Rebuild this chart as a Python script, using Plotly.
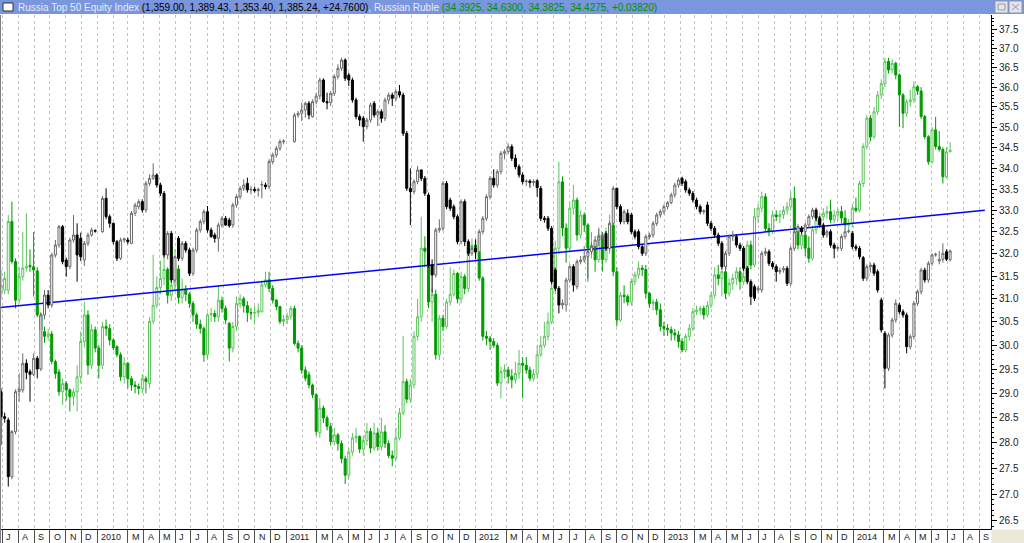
import pandas as pd
import plotly.graph_objects as go

# ---------------- data ----------------
week_start = "2009-06-29"
n_weeks = 263
weeks = pd.date_range(week_start, periods=n_weeks, freq="7D")

# Russia Top 50 Equity Index (weekly OHLC)
idx_open = [
    963, 888, 878, 708, 843, 963, 968, 1048, 1023, 1015,
    1063, 1031, 1193, 1253, 1223, 1373, 1403, 1458, 1358, 1338,
    1418, 1433, 1423, 1358, 1408, 1433, 1446, None, 1443, 1543,
    1488, 1468, 1413, 1363, 1418, 1418, 1408, 1498, 1518, 1533,
    1508, 1588, 1603, 1613, 1583, 1558, 1373, 1438, 1298, 1423,
    1363, 1408, 1388, 1318, 1388, 1448, 1473, 1503, 1448, 1433,
    1423, 1463, 1483, 1478, 1463, 1523, 1548, 1573, 1588, 1568,
    1570, 1566, 1583, 1583, 1578, 1653, 1673, 1693, 1713, None,
    None, 1713, 1793, 1798, 1808, 1828, 1788, 1833, 1850, 1898,
    1833, 1830, 1858, 1908, 1933, 1958, 1913, 1898, 1838, 1788,
    1783, 1758, 1778, 1828, 1793, 1803, 1783, 1838, 1853, 1843,
    1863, 1853, 1738, 1573, 1563, 1593, 1628, 1603, 1553, 1343,
    1313, 1448, 1453, 1588, 1538, 1518, 1488, 1413, 1533, 1413,
    1378, 1393, 1383, 1443, 1483, 1548, 1603, 1583, 1623, 1678,
    1683, 1698, 1663, 1638, 1613, 1593, 1595, 1590, 1596, 1573,
    1483, 1483, 1453, 1328, 1273, 1223, 1223, 1298, 1338, 1278,
    1353, 1358, 1368, 1383, 1398, 1418, 1428, 1438, 1393, 1468,
    1573, 1518, 1473, 1498, 1493, 1443, 1443, 1398, 1378, 1428,
    1433, 1468, 1493, 1503, 1518, 1530, 1553, 1583, 1603, 1593,
    1568, 1558, 1538, 1518, 1503, 1523, 1468, 1453, 1433, 1408,
    1338, 1378, 1428, 1428, 1403, 1393, 1333, 1293, 1278, 1268,
    1268, 1378, 1383, 1348, 1338, 1323, 1328, 1333, 1288, 1393,
    1443, 1453, 1443, 1463, 1488, 1508, 1483, 1463, 1433, 1443,
    1403, 1393, 1393, 1428, 1443, 1438, 1398, 1393, 1365, 1303,
    1338, 1343, 1323, 1238, 1138, 1033, 1133, 1178, 1223, 1203,
    1193, 1098, 1128, 1228, 1263, 1328, 1298, 1348, 1373, 1355,
    1360, 1383, 1359.00,
]
idx_high = [
    973, 900, 885, 848, 970, 1018, 1078, 1060, 1030, 1078,
    1070, 1200, 1268, 1268, 1380, 1418, 1463, 1463, 1365, 1425,
    1493, 1468, 1440, 1415, 1440, 1455, 1450, None, 1550, 1573,
    1495, 1470, 1418, 1425, 1425, 1425, 1505, 1530, 1540, 1540,
    1595, 1615, 1648, 1618, 1590, 1565, 1445, 1445, 1370, 1430,
    1415, 1415, 1395, 1395, 1455, 1480, 1510, 1520, 1455, 1440,
    1470, 1490, 1490, 1485, 1530, 1555, 1580, 1600, 1605, 1580,
    1578, 1575, 1595, 1590, 1660, 1680, 1700, 1720, 1720, None,
    None, 1800, 1805, 1830, 1833, 1835, 1840, 1860, 1905, 1903,
    1860, 1865, 1915, 1945, 1965, 1963, 1920, 1905, 1845, 1795,
    1790, 1785, 1830, 1835, 1810, 1810, 1845, 1860, 1860, 1870,
    1883, 1860, 1745, 1633, 1600, 1640, 1630, 1610, 1560, 1360,
    1455, 1480, 1595, 1595, 1545, 1525, 1495, 1540, 1540, 1420,
    1400, 1420, 1450, 1490, 1555, 1610, 1630, 1630, 1685, 1690,
    1708, 1705, 1675, 1645, 1620, 1600, 1600, 1600, 1600, 1580,
    1490, 1490, 1460, 1335, 1280, 1240, 1305, 1345, 1345, 1360,
    1370, 1400, 1395, 1410, 1430, 1455, 1440, 1445, 1475, 1580,
    1575, 1525, 1510, 1510, 1500, 1450, 1450, 1405, 1435, 1440,
    1475, 1500, 1510, 1525, 1535, 1560, 1590, 1605, 1608, 1600,
    1575, 1565, 1545, 1525, 1510, 1533, 1475, 1460, 1440, 1415,
    1385, 1435, 1445, 1435, 1410, 1400, 1340, 1300, 1285, 1280,
    1385, 1395, 1390, 1355, 1345, 1335, 1340, 1340, 1400, 1450,
    1465, 1460, 1470, 1495, 1515, 1515, 1490, 1470, 1450, 1450,
    1410, 1400, 1435, 1450, 1450, 1445, 1405, 1400, 1370, 1345,
    1350, 1350, 1330, 1245, 1145, 1140, 1185, 1240, 1230, 1210,
    1200, 1135, 1235, 1270, 1335, 1335, 1355, 1378, 1380, 1385,
    1408, 1390, 1389.43,
]
idx_low = [
    803, 870, 678, 700, 835, 933, 960, 1000, 933, 1010,
    1003, 1025, 1180, 1213, 1215, 1365, 1395, 1345, 1308, 1330,
    1410, 1293, 1355, 1340, 1400, 1428, 1440, None, 1440, 1480,
    1455, 1405, 1355, 1358, 1410, 1405, 1405, 1490, 1510, 1500,
    1500, 1580, 1598, 1575, 1550, 1365, 1360, 1290, 1290, 1355,
    1355, 1380, 1310, 1310, 1380, 1440, 1465, 1440, 1425, 1410,
    1383, 1455, 1460, 1455, 1455, 1515, 1540, 1565, 1560, 1555,
    1560, 1548, 1543, 1570, 1570, 1645, 1665, 1685, 1705, None,
    None, 1710, 1785, 1775, 1785, 1780, 1785, 1825, 1840, 1830,
    1810, 1820, 1850, 1900, 1925, 1895, 1880, 1830, 1780, 1760,
    1713, 1750, 1770, 1785, 1760, 1770, 1775, 1825, 1820, 1835,
    1845, 1730, 1565, 1463, 1555, 1585, 1595, 1550, 1335, 1260,
    1305, 1440, 1445, 1510, 1505, 1480, 1405, 1405, 1400, 1370,
    1370, 1360, 1375, 1435, 1475, 1540, 1575, 1575, 1615, 1660,
    1675, 1655, 1630, 1605, 1585, 1580, 1575, 1580, 1548, 1475,
    1470, 1445, 1285, 1265, 1198, 1210, 1203, 1290, 1263, 1270,
    1345, 1350, 1293, 1375, 1390, 1400, 1420, 1385, 1385, 1460,
    1510, 1465, 1465, 1465, 1435, 1420, 1390, 1370, 1370, 1420,
    1425, 1460, 1485, 1495, 1510, 1525, 1545, 1575, 1580, 1560,
    1550, 1530, 1510, 1495, 1495, 1460, 1445, 1425, 1400, 1330,
    1330, 1370, 1415, 1395, 1385, 1325, 1285, 1223, 1235, 1260,
    1260, 1370, 1340, 1330, 1293, 1315, 1320, 1280, 1280, 1385,
    1435, 1435, 1435, 1455, 1480, 1475, 1455, 1425, 1425, 1395,
    1363, 1385, 1385, 1420, 1438, 1390, 1385, 1360, 1295, 1295,
    1320, 1310, 1260, 1140, 973, 1025, 1125, 1170, 1195, 1185,
    1078, 1090, 1120, 1220, 1255, 1290, 1290, 1340, 1368, 1345,
    1350, 1355, 1353.40,
]
idx_close = [
    888, 883, 708, 843, 963, 971, 1048, 1021, 1015, 1063,
    1031, 1193, 1253, 1223, 1373, 1403, 1458, 1353, 1338, 1418,
    1433, 1373, 1368, 1408, 1433, 1448, 1445, None, 1543, 1488,
    1468, 1413, 1363, 1418, 1421, 1413, 1498, 1523, 1533, 1508,
    1588, 1603, 1613, 1583, 1558, 1373, 1438, 1298, 1368, 1363,
    1408, 1388, 1318, 1388, 1448, 1473, 1503, 1448, 1428, 1423,
    1463, 1483, 1463, 1461, 1523, 1548, 1573, 1583, 1568, 1570,
    1566, 1570, 1584, 1578, 1653, 1673, 1693, 1713, 1715, None,
    None, 1793, 1798, 1808, 1828, 1793, 1833, 1850, 1898, 1833,
    1830, 1858, 1908, 1933, 1958, 1903, 1898, 1838, 1788, 1778,
    1758, 1778, 1823, 1793, 1803, 1783, 1838, 1853, 1843, 1863,
    1853, 1738, 1573, 1563, 1593, 1628, 1603, 1558, 1343, 1313,
    1448, 1453, 1588, 1518, 1513, 1488, 1413, 1533, 1413, 1378,
    1393, 1383, 1443, 1483, 1548, 1603, 1583, 1623, 1678, 1683,
    1698, 1663, 1638, 1613, 1593, 1595, 1590, 1593, 1575, 1483,
    1480, 1453, 1293, 1273, 1223, 1228, 1298, 1338, 1283, 1353,
    1358, 1368, 1383, 1398, 1418, 1428, 1433, 1393, 1468, 1573,
    1518, 1473, 1503, 1473, 1443, 1428, 1398, 1378, 1428, 1433,
    1468, 1493, 1503, 1518, 1530, 1553, 1583, 1598, 1588, 1568,
    1558, 1538, 1518, 1503, 1505, 1468, 1453, 1433, 1408, 1338,
    1378, 1428, 1430, 1403, 1393, 1333, 1293, 1248, 1243, 1273,
    1378, 1383, 1348, 1338, 1323, 1326, 1333, 1288, 1393, 1443,
    1458, 1443, 1463, 1488, 1508, 1483, 1463, 1433, 1443, 1403,
    1393, 1395, 1428, 1443, 1445, 1398, 1393, 1368, 1303, 1338,
    1343, 1318, 1268, 1148, 1033, 1133, 1178, 1228, 1203, 1193,
    1098, 1128, 1228, 1263, 1328, 1298, 1348, 1373, 1375, 1360,
    1378, 1360.48, 1385.24,
]

# Russian Ruble (weekly OHLC)
rub_open = [
    31.16, 31.19, 31.19, 32.74, 31.83, 30.97, 31.49, 31.68, 31.74, 31.71,
    31.62, 30.65, 30.29, 30.19, 30.24, 29.66, 29.44, 29.03, 29.2, 29.07,
    28.93, 29.03, 29.34, 30.08, 30.65, 29.58, 30.33, 29.94, 29.58, 30.4,
    30.36, 30.11, 29.97, 29.8, 29.34, 29.62, 29.3, 29.17, 29.14, 29.1,
    29.3, 29.2, 30.51, 30.86, 31.25, 31.45, 31.65, 31.08, 31.3, 31.66,
    31.03, 31.2, 31.1, 30.9, 30.65, 30.45, 30.36, 29.8, 30.65, 30.68,
    30.61, 30.97, 30.79, 30.47, 29.94, 30.4, 30.9, 31.0, 30.85, 30.7,
    30.69, 30.7, 30.72, 31.31, 31.42, 31.23, 30.97, 30.83, 30.51, 30.55,
    30.62, 30.79, 30.04, 29.94, 29.48, 29.38, 29.17, 28.97, 28.2, 28.7,
    28.5, 28.33, 28.03, 28.16, 27.99, 27.69, 27.37, 27.82, 28.1, 28.13,
    27.88, 28.05, 28.23, 27.9, 28.2, 27.93, 28.22, 27.99, 27.75, 27.7,
    28.1, 28.6, 29.24, 28.88, 29.17, 30.19, 30.61, 32.13, 32.06, 30.93,
    31.1, 29.8, 30.58, 30.4, 30.93, 31.1, 31.56, 31.0, 31.49, 31.23,
    32.13, 32.2, 32.04, 31.46, 30.19, 30.15, 30.08, 30.0, 29.21, 29.45,
    29.48, 29.35, 29.28, 29.41, 29.62, 29.58, 29.48, 29.31, 29.4, 29.8,
    30.0, 30.19, 30.5, 31.23, 32.13, 33.67, 32.59, 32.13, 33.05, 33.24,
    32.43, 32.89, 32.66, 32.13, 32.2, 31.87, 32.43, 31.87, 32.13, 32.66,
    31.6, 30.54, 31.08, 31.05, 30.93, 31.38, 31.53, 31.68, 31.65, 31.12,
    30.9, 30.93, 30.76, 30.4, 30.36, 30.33, 30.26, 30.22, 30.08, 29.9,
    30.19, 30.36, 30.72, 30.75, 30.79, 30.65, 30.86, 31.08, 31.53, 31.45,
    31.6, 31.12, 31.34, 31.45, 31.6, 31.38, 31.49, 32.2, 31.75, 32.85,
    33.05, 33.32, 32.58, 32.51, 32.89, 32.85, 32.9, 33.0, 33.08, 33.28,
    32.55, 32.2, 32.43, 32.13, 31.9, 32.55, 32.78, 32.85, 32.93, 32.97,
    32.78, 32.89, 32.97, 32.82, 32.66, 32.7, 33.05, 33.0, 33.63, 34.52,
    35.22, 34.76, 35.38, 35.8, 36.09, 36.66, 36.44, 36.61, 36.31, 35.8,
    35.34, 35.63, 35.68, 36.01, 35.9, 35.26, 34.76, 34.15, 34.93, 34.52,
    34.45, 33.79, 34.3925,
]
rub_high = [
    31.64, 31.6, 32.89, 33.2, 31.9, 31.7, 32.5, 32.93, 32.1, 32.5,
    31.7, 30.7, 30.4, 30.35, 30.3, 29.7, 29.5, 29.3, 29.25, 29.1,
    29.1, 29.58, 30.3, 30.94, 30.75, 30.45, 30.4, 30.0, 30.5, 30.55,
    30.45, 30.15, 30.0, 29.85, 29.75, 29.65, 29.35, 29.25, 29.2, 29.4,
    29.35, 30.6, 31.98, 31.5, 31.85, 32.0, 31.7, 31.5, 32.1, 31.75,
    31.45, 31.3, 31.15, 30.95, 30.7, 30.55, 30.4, 30.7, 30.8, 30.75,
    31.3, 31.05, 30.85, 30.5, 30.5, 31.05, 31.1, 31.05, 30.95, 30.8,
    30.85, 30.9, 31.4, 31.6, 31.6, 31.3, 31.0, 30.85, 30.65, 30.7,
    30.85, 30.85, 30.1, 30.0, 29.55, 29.45, 29.2, 29.0, 28.9, 28.75,
    28.55, 28.4, 28.3, 28.2, 28.05, 27.75, 27.9, 28.2, 28.3, 28.15,
    28.15, 28.4, 28.3, 28.4, 28.3, 28.5, 28.35, 28.05, 27.85, 28.3,
    28.7, 30.2, 29.3, 29.3, 30.3, 31.0, 32.85, 32.4, 32.1, 31.2,
    31.2, 30.65, 30.65, 31.0, 31.7, 31.65, 31.6, 31.6, 31.55, 32.25,
    32.35, 32.3, 32.1, 31.5, 30.3, 30.2, 30.15, 30.05, 29.55, 29.6,
    29.55, 29.5, 29.65, 29.9, 29.75, 29.75, 29.55, 29.5, 30.0, 30.2,
    30.5, 30.7, 31.45, 32.3, 34.15, 33.8, 32.7, 33.2, 33.6, 33.3,
    33.0, 32.95, 32.7, 32.5, 32.3, 32.55, 32.5, 32.6, 32.9, 32.7,
    31.7, 31.15, 31.3, 31.1, 31.45, 31.6, 31.83, 31.75, 31.75, 31.15,
    31.0, 31.0, 30.9, 30.5, 30.45, 30.4, 30.35, 30.3, 30.15, 30.25,
    30.45, 30.8, 30.85, 30.85, 30.85, 30.95, 31.15, 31.7, 31.75, 31.9,
    31.7, 31.45, 31.55, 31.7, 31.7, 31.9, 32.3, 32.3, 33.05, 33.15,
    33.44, 33.4, 32.7, 33.0, 33.0, 33.0, 33.1, 33.2, 33.44, 33.56,
    32.6, 32.5, 32.5, 32.4, 32.65, 32.85, 32.95, 33.05, 33.1, 33.25,
    33.0, 33.05, 33.1, 33.0, 32.8, 33.15, 33.3, 33.7, 34.6, 35.3,
    35.3, 35.5, 35.9, 36.2, 36.75, 36.75, 36.72, 36.65, 36.35, 35.85,
    35.7, 35.93, 36.15, 36.05, 36.0, 35.3, 34.8, 35.0, 35.25, 34.9,
    34.5, 34.5, 34.63,
]
rub_low = [
    31.0, 31.1, 31.1, 31.78, 30.79, 30.9, 31.4, 31.6, 31.6, 31.05,
    30.6, 30.25, 30.05, 30.1, 29.6, 29.3, 28.95, 28.76, 28.85, 28.63,
    28.75, 28.63, 29.2, 29.95, 29.38, 29.5, 29.85, 29.3, 29.5, 30.2,
    30.0, 29.9, 29.75, 29.25, 29.2, 29.1, 29.05, 29.0, 28.97, 29.0,
    29.0, 29.1, 30.45, 30.8, 31.1, 31.3, 30.9, 30.95, 31.2, 30.9,
    30.9, 30.95, 30.8, 30.5, 30.35, 30.25, 29.65, 29.7, 30.5, 30.5,
    30.5, 30.7, 30.45, 29.66, 29.85, 30.3, 30.8, 30.7, 30.5, 30.55,
    30.45, 30.6, 30.7, 31.25, 31.15, 30.9, 30.75, 30.45, 30.4, 30.45,
    30.55, 30.0, 29.85, 29.4, 29.25, 29.1, 28.9, 28.15, 28.1, 28.4,
    28.25, 27.95, 27.95, 27.85, 27.6, 27.2, 27.3, 27.75, 28.0, 27.8,
    27.75, 27.95, 27.8, 27.85, 27.85, 27.85, 27.9, 27.7, 27.54, 27.65,
    28.05, 28.55, 28.8, 28.8, 29.1, 30.1, 30.5, 31.7, 30.8, 30.5,
    29.7, 29.69, 30.3, 30.35, 30.85, 31.05, 30.9, 30.9, 31.1, 31.15,
    32.0, 31.95, 31.4, 30.1, 30.0, 29.9, 29.95, 29.15, 28.9, 29.3,
    29.2, 29.1, 29.2, 29.3, 28.9, 29.4, 29.25, 29.25, 29.3, 29.75,
    29.95, 30.1, 30.45, 31.1, 32.0, 32.4, 31.8, 32.05, 32.9, 32.3,
    32.35, 32.5, 31.45, 31.9, 31.6, 31.8, 31.6, 31.8, 32.0, 31.5,
    30.4, 30.5, 30.9, 30.85, 30.85, 31.3, 31.45, 31.5, 31.0, 30.8,
    30.75, 30.65, 30.3, 30.2, 30.2, 30.1, 30.1, 29.95, 29.85, 29.85,
    30.1, 30.3, 30.65, 30.65, 30.55, 30.6, 30.8, 31.0, 31.3, 31.05,
    31.0, 31.05, 31.2, 31.3, 31.2, 31.3, 31.45, 31.65, 31.7, 32.7,
    32.95, 32.5, 32.4, 32.45, 32.75, 32.7, 32.8, 32.9, 33.0, 32.45,
    32.1, 32.1, 31.95, 31.8, 31.85, 32.45, 32.7, 32.75, 32.8, 32.7,
    32.7, 32.75, 32.7, 32.55, 32.55, 32.6, 32.95, 32.95, 33.55, 34.45,
    34.65, 34.7, 35.3, 35.7, 36.0, 36.35, 36.35, 36.2, 35.0, 34.97,
    35.25, 35.5, 35.6, 35.8, 35.2, 34.7, 34.08, 34.1, 34.45, 34.4,
    33.63, 33.75, 34.3825,
]
rub_close = [
    31.29, 31.45, 32.74, 31.83, 30.97, 31.49, 31.68, 31.72, 31.71, 31.64,
    30.65, 30.33, 30.19, 30.24, 29.66, 29.41, 29.03, 29.2, 29.07, 28.93,
    29.03, 29.34, 30.08, 30.65, 29.58, 30.33, 29.94, 29.58, 30.4, 30.36,
    30.11, 29.95, 29.8, 29.34, 29.62, 29.3, 29.17, 29.14, 29.1, 29.3,
    29.24, 30.51, 30.86, 31.25, 31.45, 31.65, 31.08, 31.3, 31.7, 31.03,
    31.2, 31.1, 30.9, 30.65, 30.45, 30.36, 29.8, 30.65, 30.68, 30.61,
    30.97, 30.79, 30.54, 29.94, 30.4, 30.9, 31.0, 30.85, 30.7, 30.69,
    30.7, 30.75, 31.31, 31.42, 31.23, 30.97, 30.83, 30.51, 30.55, 30.62,
    30.79, 30.04, 29.94, 29.48, 29.31, 29.17, 28.97, 28.23, 28.7, 28.5,
    28.33, 28.03, 28.16, 27.99, 27.69, 27.37, 27.82, 28.1, 28.13, 27.88,
    28.05, 28.23, 27.9, 28.2, 27.93, 28.22, 27.99, 27.75, 27.7, 28.1,
    28.6, 29.24, 28.88, 29.17, 30.19, 30.61, 32.13, 32.06, 30.93, 31.1,
    29.8, 30.58, 30.4, 30.93, 31.1, 31.56, 31.0, 31.49, 31.23, 32.13,
    32.2, 32.04, 31.46, 30.19, 30.15, 30.08, 30.0, 29.21, 29.45, 29.48,
    29.35, 29.28, 29.41, 29.62, 29.58, 29.48, 29.31, 29.4, 29.8, 30.0,
    30.19, 30.5, 31.23, 32.13, 33.67, 32.59, 32.13, 33.05, 33.24, 32.43,
    32.89, 32.66, 32.13, 32.2, 31.87, 32.43, 31.87, 32.13, 32.66, 31.6,
    30.54, 31.08, 31.05, 30.93, 31.38, 31.53, 31.68, 31.65, 31.12, 30.9,
    30.93, 30.76, 30.4, 30.36, 30.33, 30.26, 30.22, 30.08, 29.9, 30.19,
    30.36, 30.72, 30.75, 30.79, 30.65, 30.86, 31.08, 31.53, 31.45, 31.6,
    31.12, 31.34, 31.45, 31.6, 31.38, 31.49, 32.2, 31.75, 32.85, 33.05,
    33.32, 32.58, 32.51, 32.89, 32.85, 32.9, 33.0, 33.08, 33.28, 32.55,
    32.2, 32.43, 32.13, 31.9, 32.55, 32.78, 32.85, 32.93, 32.97, 32.78,
    32.89, 32.97, 32.82, 32.66, 32.7, 33.05, 33.0, 33.63, 34.52, 35.22,
    34.76, 35.38, 35.8, 36.09, 36.66, 36.44, 36.61, 36.31, 35.8, 35.34,
    35.63, 35.68, 36.01, 35.9, 35.26, 34.76, 34.15, 34.93, 34.52, 34.45,
    33.79, 34.3893, 34.4275,
]

# blue trend line (ruble scale)
trend_dates = ["2009-06-28", "2014-09-12"]
trend_values = [30.81, 33.0]

# month ticks / labels
month_starts = pd.date_range("2009-07-01", "2014-09-01", freq="MS")
month_labels = [
    "J", "A", "S", "O", "N", "D",
    "2010", "", "M", "A", "M", "J", "J", "A", "S", "O", "N", "D",
    "2011", "", "M", "A", "M", "J", "J", "A", "S", "O", "N", "D",
    "2012", "", "M", "A", "M", "J", "J", "A", "S", "O", "N", "D",
    "2013", "", "M", "A", "M", "J", "J", "A", "S", "O", "N", "D",
    "2014", "", "M", "A", "M", "J", "J", "A", "S",
]

# right axis ticks
y_major = [26.5 + 0.5 * i for i in range(23)]
y_major_text = ["%.1f" % v for v in y_major]
y_minor = [round(26.4 + 0.1 * i, 1) for i in range(116)]
y_minor = [v for v in y_minor if abs(v * 2 - round(v * 2)) > 1e-6]

# ---------------- styling ----------------
FONT = "Liberation Sans"
RUB_UP = "#5CC45C"
RUB_DN = "#009A00"
IDX_UP = "#6A6A6A"
IDX_DN = "#000000"
GRID = "#C4C4C4"

W, H = 1024, 543
PL, PR, PT, PB = 0, 991, 15, 529   # plot area in pixels


def X(px):
    return (px - PL) / (PR - PL)


def Y(py):
    return (PB - py) / (PB - PT)


fig = go.Figure()

fig.add_trace(go.Candlestick(
    x=weeks, open=rub_open, high=rub_high, low=rub_low, close=rub_close,
    name="Russian Ruble", yaxis="y",
    increasing=dict(line=dict(color=RUB_UP, width=1), fillcolor="#FFFFFF"),
    decreasing=dict(line=dict(color=RUB_DN, width=1), fillcolor=RUB_DN),
    whiskerwidth=0, showlegend=False, hoverinfo="skip",
))
fig.add_trace(go.Candlestick(
    x=weeks, open=idx_open, high=idx_high, low=idx_low, close=idx_close,
    name="Russia Top 50 Equity Index", yaxis="y2",
    increasing=dict(line=dict(color=IDX_UP, width=1), fillcolor="#FFFFFF"),
    decreasing=dict(line=dict(color=IDX_DN, width=1), fillcolor=IDX_DN),
    whiskerwidth=0, showlegend=False, hoverinfo="skip",
))
fig.add_trace(go.Scatter(
    x=trend_dates, y=trend_values, mode="lines", yaxis="y",
    line=dict(color="#0000FF", width=1.5), showlegend=False, hoverinfo="skip",
))

major_dates = [d for d, t in zip(month_starts, month_labels) if t]
minor_dates = [d for d, t in zip(month_starts, month_labels) if not t]

annotations = []
for d, t in zip(month_starts, month_labels):
    if not t:
        continue
    annotations.append(dict(
        x=d, xref="x", y=Y(536.5), yref="paper", text=t, showarrow=False,
        xanchor="left", yanchor="middle", xshift=2,
        font=dict(family=FONT, size=9, color="#1A1A1A"),
    ))

idx_txt = "(%s, %s, %s, %s, +%.4f)" % (
    format(idx_open[-1], ",.2f"), format(idx_high[-1], ",.2f"),
    format(idx_low[-1], ",.2f"), format(idx_close[-1], ",.2f"),
    idx_close[-1] - idx_close[-2])
rub_txt = "(%.4f, %.4f, %.4f, %.4f, +%.5f)" % (
    rub_open[-1], rub_high[-1], rub_low[-1], rub_close[-1],
    rub_close[-1] - rub_close[-2])
title_html = (
    '<span style="color:#E6ECFA">Russia Top 50 Equity Index </span>'
    '<span style="color:#000000">' + idx_txt + '</span>'
    '<span style="color:#E6ECFA">, Russian Ruble </span>'
    '<span style="color:#009000">' + rub_txt + '</span>'
)
annotations.append(dict(
    x=X(16), xref="paper", y=Y(7), yref="paper", text=title_html,
    showarrow=False, xanchor="left", yanchor="middle",
    font=dict(family=FONT, size=10, color="#000000"),
))

shapes = [
    # title bar
    dict(type="rect", xref="paper", yref="paper", x0=X(0), x1=X(W + 2),
         y0=Y(14), y1=Y(-2), fillcolor="#7A96DC", line=dict(width=0), layer="above"),
    # small window icon
    dict(type="rect", xref="paper", yref="paper", x0=X(3), x1=X(13),
         y0=Y(11), y1=Y(3), fillcolor="#FFFFFF", line=dict(color="#303030", width=1)),
    # buttons
    dict(type="rect", xref="paper", yref="paper", x0=X(995), x1=X(1008),
         y0=Y(13), y1=Y(1), fillcolor="#E4E6EE", line=dict(color="#8A94B0", width=1)),
    dict(type="rect", xref="paper", yref="paper", x0=X(998), x1=X(1005),
         y0=Y(10), y1=Y(4), fillcolor="rgba(0,0,0,0)", line=dict(color="#9A9A9A", width=1)),
    dict(type="rect", xref="paper", yref="paper", x0=X(1009), x1=X(1022),
         y0=Y(13), y1=Y(1), fillcolor="#E4E6EE", line=dict(color="#8A94B0", width=1)),
    dict(type="line", xref="paper", yref="paper", x0=X(1012), x1=X(1019),
         y0=Y(4), y1=Y(10), line=dict(color="#9A9A9A", width=1)),
    dict(type="line", xref="paper", yref="paper", x0=X(1012), x1=X(1019),
         y0=Y(10), y1=Y(4), line=dict(color="#9A9A9A", width=1)),
    # beige bottom-right corner
    dict(type="rect", xref="paper", yref="paper", x0=X(PR + 0.5), x1=X(W + 2),
         y0=Y(H + 2), y1=Y(PB + 0.5), fillcolor="#ECE9D8", line=dict(width=0)),
    # left border
    dict(type="line", xref="paper", yref="paper", x0=X(0.5), x1=X(0.5),
         y0=Y(H), y1=Y(PT), line=dict(color="#808080", width=1)),
]

fig.update_layout(
    width=W, height=H,
    margin=dict(l=PL, r=W - PR, t=PT, b=H - PB, pad=0),
    paper_bgcolor="#FFFFFF", plot_bgcolor="#FFFFFF",
    showlegend=False, boxgap=0.2, hovermode=False,
    font=dict(family=FONT, size=10, color="#222222"),
    xaxis=dict(
        type="date", range=["2009-06-27", "2014-09-24"],
        tickmode="array", tickvals=major_dates, showticklabels=False,
        ticks="outside", ticklen=14, tickwidth=1, tickcolor="#505050",
        showgrid=True, gridcolor=GRID, griddash="dot", gridwidth=1,
        minor=dict(tickmode="array", tickvals=minor_dates, showgrid=True,
                   gridcolor=GRID, griddash="dot", gridwidth=1, ticks=""),
        showline=True, linecolor="#000000", linewidth=1, zeroline=False,
        rangeslider=dict(visible=False), fixedrange=True,
    ),
    yaxis=dict(
        type="log", range=[1.42077, 1.57842], side="right", anchor="x",
        tickmode="array", tickvals=y_major, ticktext=y_major_text,
        ticks="outside", ticklen=5, tickwidth=1, tickcolor="#000000",
        minor=dict(tickmode="array", tickvals=y_minor, ticks="outside",
                   ticklen=2, tickwidth=1, tickcolor="#000000", showgrid=False),
        tickfont=dict(family=FONT, size=10, color="#222222"),
        showgrid=False, showline=True, linecolor="#000000", linewidth=1,
        zeroline=False, fixedrange=True,
    ),
    yaxis2=dict(
        overlaying="y", anchor="x", side="left", range=[551, 2093],
        visible=False, showgrid=False, zeroline=False, fixedrange=True,
    ),
    annotations=annotations,
    shapes=shapes,
)

fig.write_html(
    "out.html",
    config={"displayModeBar": False, "staticPlot": True},
    post_script="document.body.style.margin='0';document.body.style.overflow='hidden';",
)
